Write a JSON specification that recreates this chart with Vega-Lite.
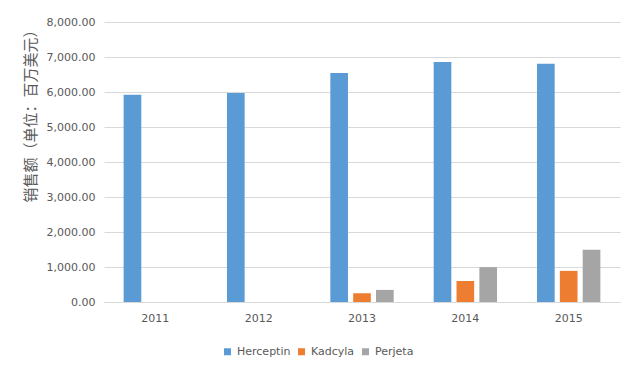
{
  "$schema": "https://vega.github.io/schema/vega-lite/v6.json",
  "width": 516,
  "height": 280,
  "autosize": {"type": "none"},
  "padding": {"left": 104, "top": 22, "right": 20, "bottom": 76},
  "background": "#ffffff",
  "data": {
    "values": [
      {"year": "2011", "drug": "Herceptin", "sales": 5920},
      {"year": "2012", "drug": "Herceptin", "sales": 5970},
      {"year": "2013", "drug": "Herceptin", "sales": 6540},
      {"year": "2013", "drug": "Kadcyla", "sales": 250},
      {"year": "2013", "drug": "Perjeta", "sales": 345},
      {"year": "2014", "drug": "Herceptin", "sales": 6860},
      {"year": "2014", "drug": "Kadcyla", "sales": 600},
      {"year": "2014", "drug": "Perjeta", "sales": 995},
      {"year": "2015", "drug": "Herceptin", "sales": 6810},
      {"year": "2015", "drug": "Kadcyla", "sales": 890},
      {"year": "2015", "drug": "Perjeta", "sales": 1490}
    ]
  },
  "mark": {"type": "bar"},
  "encoding": {
    "x": {
      "field": "year",
      "type": "nominal",
      "scale": {"paddingInner": 0.387, "paddingOuter": 0.19},
      "axis": {
        "title": null,
        "labelAngle": 0,
        "labelPadding": 10,
        "labelFontSize": 11,
        "labelFont": "DejaVu Sans",
        "labelColor": "#595959",
        "ticks": false,
        "domainColor": "#D9D9D9",
        "domainWidth": 1,
        "grid": false
      }
    },
    "xOffset": {
      "field": "drug",
      "type": "nominal",
      "sort": ["Herceptin", "Kadcyla", "Perjeta"],
      "scale": {"paddingInner": 0.227, "paddingOuter": 0}
    },
    "y": {
      "field": "sales",
      "type": "quantitative",
      "scale": {"domain": [0, 8000], "nice": false},
      "axis": {
        "title": "销售额（单位：百万美元）",
        "titleFont": "Noto Sans CJK SC",
        "titleFontSize": 15,
        "titleFontWeight": "normal",
        "titleColor": "#595959",
        "titleAnchor": "end",
        "titlePadding": 8,
        "format": ",.2f",
        "values": [0, 1000, 2000, 3000, 4000, 5000, 6000, 7000, 8000],
        "labelOverlap": false,
        "labelFontSize": 11,
        "labelFont": "DejaVu Sans",
        "labelColor": "#595959",
        "labelPadding": 9,
        "ticks": false,
        "domain": false,
        "gridColor": "#D9D9D9",
        "gridWidth": 1
      }
    },
    "color": {
      "field": "drug",
      "type": "nominal",
      "sort": ["Herceptin", "Kadcyla", "Perjeta"],
      "scale": {
        "domain": ["Herceptin", "Kadcyla", "Perjeta"],
        "range": ["#5B9BD5", "#ED7D31", "#A5A5A5"]
      },
      "legend": {
        "title": null,
        "orient": "none",
        "direction": "horizontal",
        "legendX": 118,
        "legendY": 324,
        "symbolType": "square",
        "symbolSize": 49,
        "symbolStrokeWidth": 0,
        "labelFont": "DejaVu Sans",
        "labelFontSize": 11,
        "labelColor": "#595959",
        "labelOffset": 4,
        "columnPadding": 5
      }
    }
  },
  "config": {
    "view": {"stroke": null}
  }
}
